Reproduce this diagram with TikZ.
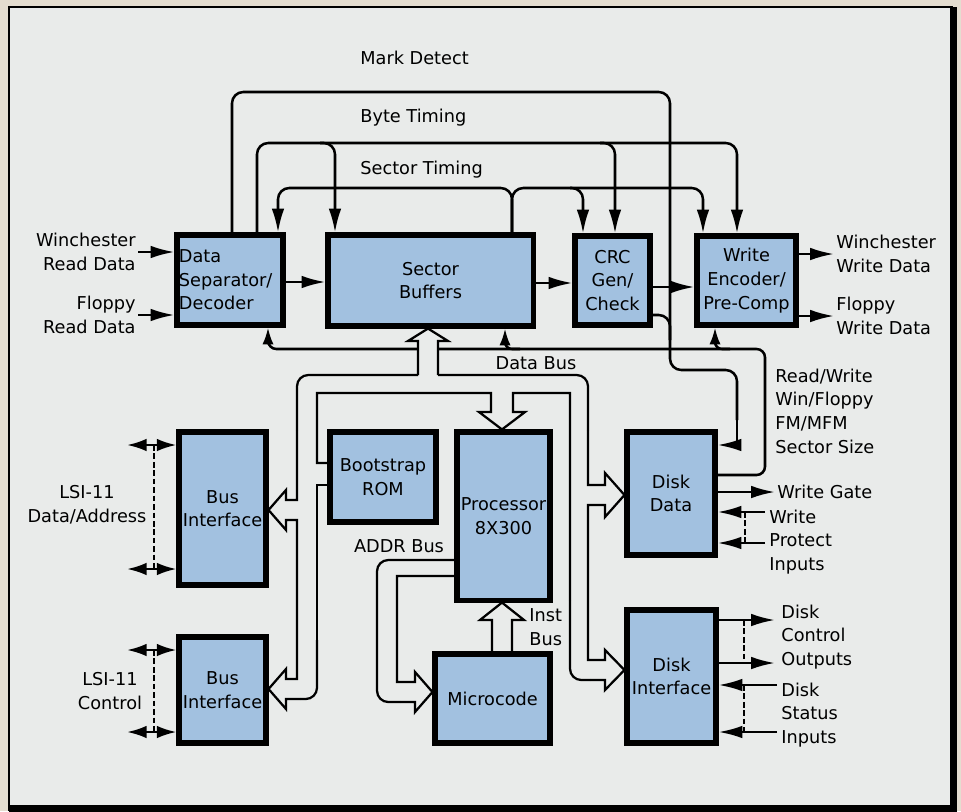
\documentclass[tikz,border=0pt]{standalone}
\usepackage{fontspec}
\setmainfont{DejaVu Sans}
\usetikzlibrary{arrows.meta,calc}

\definecolor{blockblue}{RGB}{162,193,224}
\definecolor{paper}{RGB}{233,235,234}
\definecolor{margin}{RGB}{228,221,208}
\newcommand{\diagfont}{\fontsize{12.6}{16.8}\selectfont}

\begin{document}
\begin{tikzpicture}[x=0.025cm,y=-0.025cm,
    every node/.style={font=\diagfont},
    block/.style={draw,line width=3.6pt,fill=blockblue,inner sep=0pt,align=center},
    lbl/.style={inner sep=1.5pt},
    wire/.style={line width=1.8pt},
    sig/.style={line width=1.8pt,-{Latex[length=17pt,width=9pt]}},
    ssig/.style={line width=1.8pt,-{Latex[length=12pt,width=8pt]}},
    dsig/.style={line width=1.8pt,{Latex[length=14pt,width=9pt]}-{Latex[length=14pt,width=9pt]}},
    dashline/.style={line width=1.3pt,dash pattern=on 4pt off 2pt},
    bus/.style={line width=1.6pt,line join=miter}]
  \useasboundingbox (0,0) rectangle (961,811);
  % page and frame
  \fill[margin] (0,0) rectangle (961,811);
  \fill[paper] (9,7) rectangle (953,808);
  \draw[line width=0.8pt] (9,811) -- (9,7) -- (953,7);
  \draw[line width=4.5pt] (953.5,7) -- (953.5,808.5) -- (9,808.5);

  % blocks
  \node[block,minimum width=2.65cm,minimum height=2.25cm,text width=2.55cm,align=left] (ds) at (230,280) {Data\\Separator/\\Decoder};
  \node[block,minimum width=5.125cm,minimum height=2.275cm] (sb) at (430.5,280.5) {Sector\\Buffers};
  \node[block,minimum width=1.875cm,minimum height=2.225cm] (crc) at (612.5,280.5) {CRC\\Gen/\\Check};
  \node[block,minimum width=2.475cm,minimum height=2.225cm] (we) at (746.5,280.5) {Write\\Encoder/\\Pre-Comp};
  \node[block,minimum width=2.175cm,minimum height=3.825cm] (bi1) at (222.5,508.5) {Bus\\Interface};
  \node[block,minimum width=2.65cm,minimum height=2.25cm] (rom) at (383,477) {Bootstrap\\ROM};
  \node[block,minimum width=2.325cm,minimum height=4.2cm] (proc) at (503.5,516) {Processor\\8X300};
  \node[block,minimum width=2.2cm,minimum height=3.075cm] (dd) at (671,493.5) {Disk\\Data};
  \node[block,minimum width=2.175cm,minimum height=2.65cm] (bi2) at (222.5,690) {Bus\\Interface};
  \node[block,minimum width=2.875cm,minimum height=2.225cm] (mc) at (492.5,698.5) {Microcode};
  \node[block,minimum width=2.225cm,minimum height=3.325cm] (di) at (671.5,676.5) {Disk\\Interface};

  % read / write data
  \node[lbl,anchor=east,align=right] (wrd) at (138,252) {Winchester\\Read Data};
  \node[lbl,anchor=east,align=right] (frd) at (138,315) {Floppy\\Read Data};
  \node[lbl,anchor=west,align=left] (wwd) at (834,254) {Winchester\\Write Data};
  \node[lbl,anchor=west,align=left] (fwd) at (834,316) {Floppy\\Write Data};
  \draw[sig] (wrd.east) -- (wrd.east -| ds.west);
  \draw[sig] (frd.east) -- (frd.east -| ds.west);
  \draw[sig] (wwd.west -| we.east) -- (wwd.west);
  \draw[sig] (fwd.west -| we.east) -- (fwd.west);
  \draw[sig] (ds.east |- 0,282) -- (sb.west |- 0,282);
  \draw[sig] (sb.east |- 0,283) -- (crc.west |- 0,283);
  \draw[sig] (crc.east |- 0,287) -- (we.west |- 0,287);

  % timing lines
  \node[lbl,anchor=west] (mark) at (358,58) {Mark Detect};
  \node[lbl,anchor=west] (byte) at (358,118) {Byte Timing};
  \node[lbl,anchor=west] (sect) at (358,170) {Sector Timing};
  \draw[wire,rounded corners=8] (232,0 |- ds.north) -- (232,92) -- (670,92) -- (670,370) -- (737,370) -- (737,420);
  \draw[sig] (737,420) -- (737,445) -- (737,445 -| dd.east);
  \draw[wire,rounded corners=8] (crc.east |- 0,315) -- (670,315) -- (670,340);
  \draw[sig,rounded corners=8] (257,0 |- ds.north) -- (257,143) -- (737,143) -- (737,0 |- we.north);
  \draw[sig,rounded corners=8] (320,143) -- (335,143) -- (335,0 |- sb.north);
  \draw[sig,rounded corners=8] (600,143) -- (615,143) -- (615,0 |- crc.north);
  \draw[sig,rounded corners=8] (512,0 |- sb.north) -- (512,188) -- (278,188) -- (278,0 |- ds.north);
  \draw[sig,rounded corners=8] (512,0 |- sb.north) -- (512,188) -- (703,188) -- (703,0 |- we.north);
  \draw[sig,rounded corners=8] (570,188) -- (583,188) -- (583,0 |- crc.north);

  % control lines from disk data
  \draw[ssig,rounded corners=6] (dd.east |- 0,475) -- (765,475) -- (765,349) -- (268,349) -- (268,0 |- ds.south);
  \draw[ssig,rounded corners=5] (520,349) -- (505,349) -- (505,0 |- sb.south);
  \draw[ssig,rounded corners=5] (730,349) -- (715,349) -- (715,0 |- we.south);
  \node[lbl,anchor=west,align=left] (rw) at (773,411) {Read/Write\\Win/Floppy\\FM/MFM\\Sector Size};

  % data bus
  \fill[paper] (418,341) rectangle (438,375);
  \draw[bus] (418,375) -- (418,341) -- (408,341) -- (428,0 |- sb.south) -- (448,341) -- (438,341) -- (438,375);
  \draw[bus,rounded corners=8] (418,375) -- (297,375) -- (297,430);
  \draw[bus] (297,430) -- (297,500) -- (286,500) -- (286,490) -- (bi1.east |- 0,510) -- (286,530) -- (286,520) -- (297,520)
    -- (297,679) -- (286,679) -- (286,669) -- (bi2.east |- 0,689) -- (286,709) -- (286,699) -- (300,699);
  \draw[bus,rounded corners=8] (300,699) -- (317,699) -- (317,640);
  \draw[bus] (317,640) -- (317,485) -- (rom.west |- 0,485);
  \draw[bus] (rom.west |- 0,463) -- (317,463) -- (317,393) -- (491,393) -- (491,412) -- (479,412) -- (502,0 |- proc.north)
    -- (525,412) -- (513,412) -- (513,393) -- (570,393) -- (570,600);
  \draw[bus,rounded corners=8] (570,600) -- (570,680) -- (590,680);
  \draw[bus] (590,680) -- (605,680) -- (605,690) -- (di.west |- 0,670) -- (605,650) -- (605,660) -- (588,660)
    -- (588,505) -- (605,505) -- (605,517) -- (dd.west |- 0,495) -- (605,473) -- (605,485) -- (588,485) -- (588,430);
  \draw[bus,rounded corners=8] (588,430) -- (588,375) -- (438,375);
  \node[lbl] (dbus) at (536,363) {Data Bus};

  % addr bus and inst bus
  \draw[bus,rounded corners=8] (proc.west |- 0,560) -- (377,560) -- (377,702) -- (400,702);
  \draw[bus] (400,702) -- (415,702) -- (415,712) -- (mc.west |- 0,692) -- (415,672) -- (415,682) -- (397,682)
    -- (397,576) -- (proc.west |- 0,576);
  \draw[bus] (492,0 |- mc.north) -- (492,620) -- (480,620) -- (502,0 |- proc.south) -- (524,620) -- (512,620) -- (512,0 |- mc.north);
  \node[lbl] (abus) at (399,546) {ADDR Bus};
  \node[lbl,anchor=west,align=left] (ibus) at (527,627) {Inst\\Bus};

  % disk data signals
  \node[lbl,anchor=west] (wg) at (775,492) {Write Gate};
  \draw[sig] (dd.east |- wg.west) -- (wg.west);
  \node[lbl,anchor=west,align=left] (wp) at (767,542) {Write\\Protect\\Inputs};
  \coordinate (wp1) at (765,512);
  \coordinate (wp2) at (765,543);
  \draw[sig] (wp1) -- (wp1 -| dd.east);
  \draw[sig] (wp2) -- (wp2 -| dd.east);
  \draw[dashline] (745,0 |- wp1) -- (745,0 |- wp2);

  % disk interface signals
  \node[lbl,anchor=west,align=left] (dco) at (779,637) {Disk\\Control\\Outputs};
  \node[lbl,anchor=west,align=left] (dsi) at (779,715) {Disk\\Status\\Inputs};
  \coordinate (dco1) at (775,620);
  \coordinate (dco2) at (775,663);
  \coordinate (dsi1) at (777,685);
  \coordinate (dsi2) at (777,732);
  \draw[sig] (dco1 -| di.east) -- (dco1);
  \draw[sig] (dco2 -| di.east) -- (dco2);
  \draw[sig] (dsi1) -- (dsi1 -| di.east);
  \draw[sig] (dsi2) -- (dsi2 -| di.east);
  \draw[dashline] (744,0 |- dco1) -- (744,0 |- dco2);
  \draw[dashline] (744,0 |- dsi1) -- (744,0 |- dsi2);

  % LSI-11 side
  \node[lbl,align=center] (lsia) at (87,505) {LSI-11\\Data/Address};
  \node[lbl,align=center] (lsic) at (110,691) {LSI-11\\Control};
  \coordinate (la1) at (127,445);
  \coordinate (la2) at (127,569);
  \coordinate (lc1) at (127,650);
  \coordinate (lc2) at (127,732);
  \draw[dsig] (la1) -- (la1 -| bi1.west);
  \draw[dsig] (la2) -- (la2 -| bi1.west);
  \draw[dsig] (lc1) -- (lc1 -| bi2.west);
  \draw[dsig] (lc2) -- (lc2 -| bi2.west);
  \draw[dashline] (154,0 |- la1) -- (154,0 |- la2);
  \draw[dashline] (154,0 |- lc1) -- (154,0 |- lc2);
\end{tikzpicture}
\end{document}
